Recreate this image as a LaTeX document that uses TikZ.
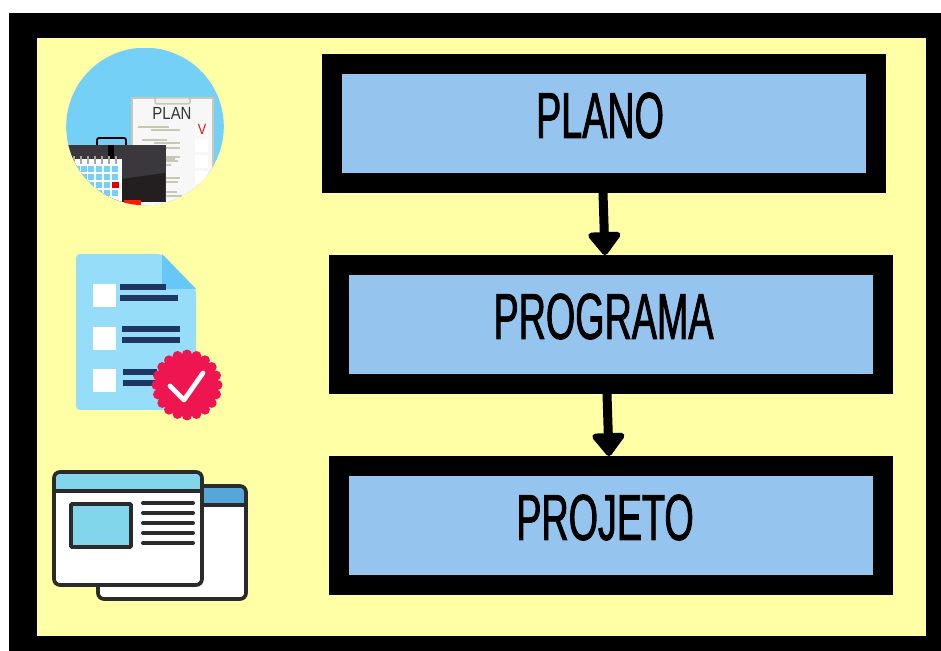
\documentclass[tikz,border=0pt]{standalone}
\usepackage{fontspec}
\setmainfont[FakeStretch=0.58, FakeBold=1.2]{Liberation Sans}
\newfontfamily\planfont[FakeStretch=0.85]{Liberation Sans}
\definecolor{pageyellow}{RGB}{255, 255, 165}
\definecolor{boxblue}{RGB}{149, 197, 238}
\definecolor{skyblue}{RGB}{116, 208, 247}
\definecolor{docblue}{RGB}{149, 221, 248}
\definecolor{foldblue}{RGB}{102, 200, 247}
\definecolor{navyline}{RGB}{31, 53, 100}
\definecolor{badgered}{RGB}{238, 21, 80}
\definecolor{winblue}{RGB}{130, 214, 235}
\definecolor{backblue}{RGB}{85, 166, 218}
\definecolor{winline}{RGB}{43, 43, 43}
\definecolor{papergrey}{RGB}{200, 200, 182}
\definecolor{caseupper}{RGB}{58, 56, 61}
\definecolor{caselower}{RGB}{35, 31, 32}
\usetikzlibrary{arrows.meta, positioning, calc}
\tikzset{
  stagebox/.style={draw=black, fill=boxblue, line width=0.4cm, minimum width=10.88cm,
    minimum height=2.38cm, inner sep=0pt, text height=26.6pt, text depth=10.2pt,
    font=\fontsize{37}{40}\selectfont},
  stagearrow/.style={line width=0.18cm, -{Triangle[width=0.74cm, length=0.5cm, round]}},
  winedge/.style={draw=winline, line width=0.074cm, rounded corners=0.12cm},
  winrule/.style={draw=winline, line width=0.08cm, line cap=round},
  docrule/.style={draw=navyline, line width=0.105cm},
  paperrule/.style={draw=papergrey, line width=0.03cm}
}

\begin{document}
\begin{tikzpicture}[x=0.02cm, y=-0.02cm]
  \useasboundingbox (0, 0) rectangle (941, 651);
  % Page
  \fill[black] (9, 13) rectangle (941, 651);
  \fill[pageyellow] (37, 38) rectangle (926, 636);

  % Stages
  \node[stagebox] (plano) at (604, 123.5) {PLANO\kern4.5pt};
  \node[stagebox] (programa) at (611, 324.5) {PROGRAMA\kern8.5pt};
  \node[stagebox] (projeto) at (611, 525.5) {PROJETO\kern6.8pt};
  \draw[stagearrow] ($(plano.south)+(-1, 0)$) -- ($(programa.north)+(-6, 0)$);
  \draw[stagearrow] ($(programa.south)+(-4, 0)$) -- ($(projeto.north)+(-2, 0)$);

  % Plan icon
  \begin{scope}
    \clip (145, 126.5) circle (78.8);
    \fill[skyblue] (66, 48) rectangle (224, 206);
    \fill[black!3, draw=papergrey, line width=0.03cm] (132, 98) rectangle (213, 215);
    \draw[fill=black!6, draw=papergrey, line width=0.03cm, rounded corners=0.03cm] (155, 98) rectangle (190, 104);
    \node[font=\planfont\fontsize{10}{10}\selectfont, text=black!80, inner sep=0pt] (plantitle) at (172, 113.5) {PLAN};
    \foreach \yy in {123, 139, 155, 171} {
      \fill[white] (195, \yy) rectangle (208, \yy+13);
    }
    \node[font=\planfont\fontsize{8.5}{9}\selectfont, text=red, inner sep=0pt] (plancheck) at (202, 129.5) {V};
    \foreach \xa/\xb/\yy in {138/169/127, 151/180/130, 142/167/140, 154/180/143, 154/180/148,
      166/180/157, 166/175/159, 166/178/161, 166/171/165, 166/180/178, 166/178/182, 166/177/192, 166/182/196} {
      \draw[paperrule] (\xa, \yy) -- (\xb, \yy);
    }
    % Briefcase
    \draw[black, line width=0.035cm, rounded corners=0.04cm] (97, 145) -- (97, 138) -- (126, 138) -- (126, 145);
    \fill[caseupper] (60, 145) rectangle (166, 202);
    \fill[caselower] (121, 179) -- (165, 173) -- (165, 202) -- (121, 202) -- cycle;
    \fill[black] (108, 145) rectangle (114, 160);
    \fill[red!80!orange] (124, 200) rectangle (141, 206);
    % Calendar
    \fill[white] (60, 159) rectangle (122, 206);
    \foreach \xx in {49, 56, 63, 71, 79, 87} {
      \foreach \yy in {166, 174, 182, 190} {
        \fill[skyblue] (\xx+25, \yy) rectangle (\xx+31, \yy+6.5);
      }
    }
    \fill[red!90!black] (112, 182) rectangle (119, 188.5);
    \foreach \xx in {74, 81, 88, 95, 102, 109, 116} {
      \draw[black!35, line width=0.05cm] (\xx, 156) -- (\xx, 164);
    }
  \end{scope}

  % Checklist icon
  \fill[docblue, rounded corners=0.08cm] (76, 254) -- (162, 254) -- (196, 289) -- (196, 410) -- (76, 410) -- cycle;
  \fill[foldblue] (162, 254) -- (196, 289) -- (167, 289) -- (162, 284) -- cycle;
  \foreach \yy in {284, 327, 369} {
    \fill[white] (93, \yy) rectangle (116, \yy+23);
  }
  \foreach \xa/\xb/\yy in {120/166/287, 120/178/298, 122/180/329, 122/180/340, 123/157/372, 123/157/383} {
    \draw[docrule] (\xa, \yy) -- (\xb, \yy);
  }
  \fill[badgered] (187, 385) circle (31);
  \foreach \ang in {0, 18, ..., 342} {
    \fill[badgered] (187, 385) ++(\ang:30.5) circle (5);
  }
  \draw[white, line width=0.095cm, line cap=round, line join=round] (170, 386) -- (184, 400) -- (203, 373);

  % Window icon
  \fill[white, rounded corners=0.12cm] (98, 486) rectangle (246, 599);
  \fill[backblue, rounded corners=0.12cm] (98, 486) rectangle (246, 505);
  \draw[winedge] (98, 486) rectangle (246, 599);
  \draw[winedge] (98, 505) -- (246, 505);
  \fill[white, rounded corners=0.12cm] (54, 472) rectangle (202, 585);
  \fill[winblue, rounded corners=0.12cm] (54, 472) rectangle (202, 491);
  \draw[winedge] (54, 472) rectangle (202, 585);
  \draw[winedge] (54, 491) -- (202, 491);
  \draw[winedge, fill=winblue, rounded corners=0.02cm] (71, 504) rectangle (131, 547);
  \foreach \yy in {503, 513, 523, 533, 543} {
    \draw[winrule] (143, \yy) -- (193, \yy);
  }
\end{tikzpicture}
\end{document}
